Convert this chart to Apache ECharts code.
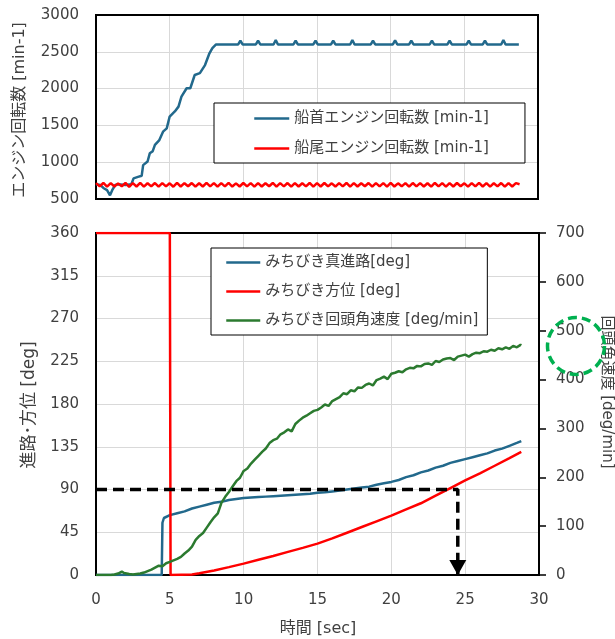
<!DOCTYPE html>
<html>
<head>
<meta charset="utf-8">
<script src="https://cdn.jsdelivr.net/npm/echarts@6/dist/echarts.min.js"></script>
<style>
html,body{margin:0;padding:0;background:#fff;}
#chart{width:615px;height:639px;}
</style>
</head>
<body>
<div id="chart"></div>
<script>
// ---------- DATA ----------
var FONT = "'DejaVu Sans', 'Noto Sans CJK JP', sans-serif";
var TXT = '#404040';

var topLegend = ['船首エンジン回転数 [min-1]', '船尾エンジン回転数 [min-1]'];
var bottomLegend = ['みちびき真進路[deg]', 'みちびき方位 [deg]', 'みちびき回頭角速度 [deg/min]'];

var xTicks = [0, 5, 10, 15, 20, 25, 30];
var rpmTicks = [500, 1000, 1500, 2000, 2500, 3000];
var degTicks = [0, 45, 90, 135, 180, 225, 270, 315, 360];
var rateTicks = [0, 100, 200, 300, 400, 500, 600, 700];

// bow engine rpm [time sec, rpm]
var bowRpm = [
 [0,700],[0.3,690],[0.5,650],[0.75,620],[0.95,550],[1.1,620],[1.3,690],[1.5,700],[2.0,690],[2.4,700],
 [2.55,780],[2.85,800],[3.1,815],[3.2,960],[3.5,1010],[3.65,1120],[3.85,1150],[4.0,1235],[4.3,1300],
 [4.55,1415],[4.8,1460],[5.0,1620],[5.35,1690],[5.6,1755],[5.8,1890],[6.15,2005],[6.4,2005],[6.7,2185],
 [7.05,2210],[7.4,2320],[7.7,2480],[7.9,2550],[8.15,2600],
 [9.65,2600],[9.8,2650],[9.95,2600],[10.85,2600],[11.0,2650],[11.15,2600],[12.05,2600],[12.2,2660],[12.35,2600],
 [13.4,2600],[13.55,2650],[13.7,2600],[14.75,2600],[14.9,2650],[15.05,2600],[15.95,2600],[16.1,2650],[16.25,2600],
 [17.25,2600],[17.4,2660],[17.55,2600],[18.65,2600],[18.8,2650],[18.95,2600],[20.15,2600],[20.3,2655],[20.45,2600],
 [21.25,2600],[21.4,2650],[21.55,2600],[22.65,2600],[22.8,2650],[22.95,2600],[23.85,2600],[24.0,2650],[24.15,2600],
 [25.15,2600],[25.3,2650],[25.45,2600],[26.25,2600],[26.4,2650],[26.55,2600],[27.5,2600],[27.65,2660],[27.8,2600],
 [28.7,2600]
];

// stern engine rpm, sampled every 0.25 s
var sternStep = 0.25;
var sternRpm = [
 715,672,718,668,716,670,712,674,718,666,
 715,670,719,668,714,672,717,669,716,671,
 713,667,718,670,715,673,717,668,714,670,
 719,672,716,667,715,671,718,669,713,670,
 717,672,715,668,716,670,714,673,718,669,
 715,671,717,667,716,670,714,672,718,668,
 715,670,717,671,713,669,716,672,718,667,
 715,670,714,673,717,668,716,671,715,669,
 718,670,713,672,716,668,717,671,715,670,
 714,667,718,672,716,669,715,670,717,673,
 713,668,716,671,718,670,715,669,714,672,
 717,668,716,670,715,700
];

// true course [deg]
var courseDeg = [
 [0,0],[4.45,0],[4.5,55],[4.6,60],[5.0,63],[5.5,65],[6.0,67],[6.5,70],[7.0,72],[7.5,74],[8.0,76],
 [8.5,77],[9.0,79],[9.5,80],[10,81],[10.5,81.5],[11,82],[11.5,82.5],[12,83],[12.5,83.5],[13,84],
 [13.5,84.5],[14,85],[14.5,85.5],[15,86.5],[15.5,87],[16,88],[16.5,89],[17,90],[17.5,91],[18,92],
 [18.5,93],[19,95],[19.5,96.5],[20,98],[20.5,100],[21,103],[21.5,105],[22,108],[22.5,110],[23,113],
 [23.5,115],[24,118],[24.5,120],[25,122],[25.5,124],[26,126],[26.5,128],[27,131],[27.5,133],[28,136],
 [28.5,139],[28.8,141]
];

// bearing [deg]
var bearingDeg = [
 [0,360],[5.0,360],[5.05,0],[6.5,0.5],[7,1.8],[8,4.8],[9,8.3],[10,12],[11,16],[12,20],[13,24.3],
 [14,28.6],[15,33],[16,38.5],[17,44.5],[18,50.5],[19,56.5],[20,62.5],[21,69],[22,75.5],[23,83.5],[24,91.5],
 [25,99.5],[26,107],[27,115],[28,123],[28.8,129.5]
];

// rate of turn [deg/min]
var turnRate = [
 [0,0],[0.5,0],[1.0,0],[1.25,1],[1.5,3],[1.75,7],[1.9,4],[2.0,6],[2.25,2],[2.5,1],[2.75,2],[3.0,3],
 [3.25,5],[3.5,8],[3.75,11],[4.0,15],[4.25,19],[4.5,18],[4.75,24],[5.0,27],[5.25,30],[5.5,33],[5.75,37],
 [6.0,44],[6.25,50],[6.5,58],[6.75,72],[7.0,80],[7.25,86],[7.5,97],[7.75,108],[8.0,118],[8.25,126],
 [8.5,148],[8.75,160],[9.0,170],[9.25,181],[9.5,192],[9.75,199],[10.0,213],[10.25,218],[10.5,228],
 [10.75,236],[11.0,244],[11.25,252],[11.5,259],[11.75,270],[12.0,276],[12.25,279],[12.5,288],[12.75,292],
 [13.0,298],[13.25,294],[13.5,309],[13.75,316],[14.0,322],[14.25,326],[14.5,331],[14.75,336],[15.0,338],
 [15.25,343],[15.5,349],[15.75,346],[16.0,356],[16.25,360],[16.5,364],[16.75,372],[17.0,370],[17.25,378],
 [17.5,376],[17.75,384],[18.0,383],[18.25,389],[18.5,392],[18.75,388],[19.0,399],[19.25,402],[19.5,406],
 [19.75,401],[20.0,412],[20.25,414],[20.5,417],[20.75,415],[21.0,421],[21.25,424],[21.5,423],[21.75,428],
 [22.0,427],[22.25,432],[22.5,433],[22.75,430],[23.0,438],[23.25,436],[23.5,441],[23.75,443],[24.0,444],
 [24.25,440],[24.5,447],[24.75,449],[25.0,451],[25.25,447],[25.5,452],[25.75,455],[26.0,454],[26.25,458],
 [26.5,457],[26.75,461],[27.0,459],[27.25,464],[27.5,462],[27.75,466],[28.0,463],[28.25,469],[28.5,466],
 [28.75,471],[28.8,470]
];

// guide (dashed) line: 90 deg reached at 24.5 s
var guideLine = [[0,90],[24.5,90],[24.5,0]];
var guideArrow = [24.5, 0];

// ---------- CHART ----------
var sternData = sternRpm.map(function(v, i){ return [i * sternStep, v]; });
var chart = echarts.init(document.getElementById('chart'), null, {renderer:'canvas'});
var plain = function(v){ return String(v); };

function ya(extra){
  var base = {
    type:'value',
    axisLabel:{color:TXT, fontSize:15, fontFamily:FONT, margin:17, formatter:plain},
    axisLine:{show:false}, axisTick:{show:false},
    splitLine:{lineStyle:{color:'#d9d9d9', width:1}}
  };
  for (var k in extra) base[k] = extra[k];
  return base;
}

var option = {
  animation:false,
  backgroundColor:'#fff',
  textStyle:{fontFamily:FONT},
  grid:[
    {left:96, right:77, top:15, height:184, show:true, borderColor:'#000', borderWidth:2, backgroundColor:'transparent', z:3},
    {left:96, right:76, top:233, height:342, show:true, borderColor:'#000', borderWidth:2, backgroundColor:'transparent', z:3}
  ],
  xAxis:[
    {type:'value', gridIndex:0, min:xTicks[0], max:xTicks[xTicks.length-1], interval:5,
     axisLabel:{show:false}, axisLine:{show:false}, axisTick:{show:false},
     splitLine:{lineStyle:{color:'#d9d9d9', width:1}}},
    {type:'value', gridIndex:1, min:xTicks[0], max:xTicks[xTicks.length-1], interval:5,
     axisLabel:{color:TXT, fontSize:15, fontFamily:FONT, margin:18, formatter:plain},
     axisLine:{show:false}, axisTick:{show:false},
     splitLine:{lineStyle:{color:'#d9d9d9', width:1}}}
  ],
  yAxis:[
    ya({gridIndex:0, min:rpmTicks[0], max:rpmTicks[rpmTicks.length-1], interval:500}),
    ya({gridIndex:1, min:degTicks[0], max:degTicks[degTicks.length-1], interval:45}),
    ya({gridIndex:1, position:'right', min:rateTicks[0], max:rateTicks[rateTicks.length-1], interval:100,
        splitLine:{show:false},
        axisLine:{show:true, lineStyle:{color:'#000', width:2}},
        axisTick:{show:true, length:7, inside:false, lineStyle:{color:'#000', width:1.5}},
        axisLabel:{color:TXT, fontSize:15, fontFamily:FONT, margin:17, formatter:plain}})
  ],
  legend:[
    {orient:'vertical', left:214, top:103, padding:[8,36,7,39], itemGap:15, itemWidth:35, itemHeight:14,
     backgroundColor:'#fff', borderColor:'#000', borderWidth:1, data:topLegend, selectedMode:false,
     itemStyle:{opacity:0}, lineStyle:{width:2.5},
     textStyle:{color:TXT, fontSize:15, fontFamily:FONT}},
    {orient:'vertical', left:211, top:248, padding:[7,9,7,14], itemGap:14, itemWidth:34, itemHeight:14,
     backgroundColor:'#fff', borderColor:'#000', borderWidth:1, data:bottomLegend, selectedMode:false,
     itemStyle:{opacity:0}, lineStyle:{width:2.5},
     textStyle:{color:TXT, fontSize:15, fontFamily:FONT}}
  ],
  series:[
    {name:topLegend[0], type:'line', xAxisIndex:0, yAxisIndex:0, data:bowRpm, symbol:'none',
     lineStyle:{color:'#22698C', width:2.5}, itemStyle:{color:'#22698C'}},
    {name:topLegend[1], type:'line', xAxisIndex:0, yAxisIndex:0, data:sternData, symbol:'none',
     lineStyle:{color:'#FF0000', width:2.5}, itemStyle:{color:'#FF0000'}},
    {name:bottomLegend[0], type:'line', xAxisIndex:1, yAxisIndex:1, data:courseDeg, symbol:'none',
     lineStyle:{color:'#22698C', width:2.5}, itemStyle:{color:'#22698C'}},
    {name:bottomLegend[1], type:'line', xAxisIndex:1, yAxisIndex:1, data:bearingDeg, symbol:'none',
     lineStyle:{color:'#FF0000', width:2.5}, itemStyle:{color:'#FF0000'}},
    {name:bottomLegend[2], type:'line', xAxisIndex:1, yAxisIndex:2, data:turnRate, symbol:'none',
     lineStyle:{color:'#2B7A2F', width:2.5}, itemStyle:{color:'#2B7A2F'}},
    {name:'guide', type:'line', xAxisIndex:1, yAxisIndex:1, data:guideLine, symbol:'none', z:5,
     lineStyle:{color:'#000', width:3.5, type:[11,6]},
     markPoint:{symbol:'triangle', symbolRotate:180, symbolSize:[17,15], symbolOffset:[0,-7.5],
       itemStyle:{color:'#000'}, label:{show:false}, data:[{coord:guideArrow}]}}
  ],
  graphic:[
    {type:'text', x:20, y:110, rotation:Math.PI/2,
     style:{text:'エンジン回転数 [min-1]', fill:TXT, font:'16px ' + FONT, textAlign:'center', textVerticalAlign:'middle'}},
    {type:'text', x:30, y:405, rotation:Math.PI/2,
     style:{text:'進路･方位 [deg]', fill:TXT, font:'17px ' + FONT, textAlign:'center', textVerticalAlign:'middle'}},
    {type:'text', x:607, y:392, rotation:-Math.PI/2,
     style:{text:'回頭角速度 [deg/min]', fill:TXT, font:'15px ' + FONT, textAlign:'center', textVerticalAlign:'middle'}},
    {type:'text', x:318, y:629,
     style:{text:'時間 [sec]', fill:TXT, font:'16px ' + FONT, textAlign:'center', textVerticalAlign:'middle'}},
    {type:'circle', shape:{cx:576, cy:346, r:28.5}, z:100,
     style:{fill:null, stroke:'#00B050', lineWidth:3.5, lineDash:[9,5]}}
  ]
};
chart.setOption(option);
</script>
</body>
</html>
